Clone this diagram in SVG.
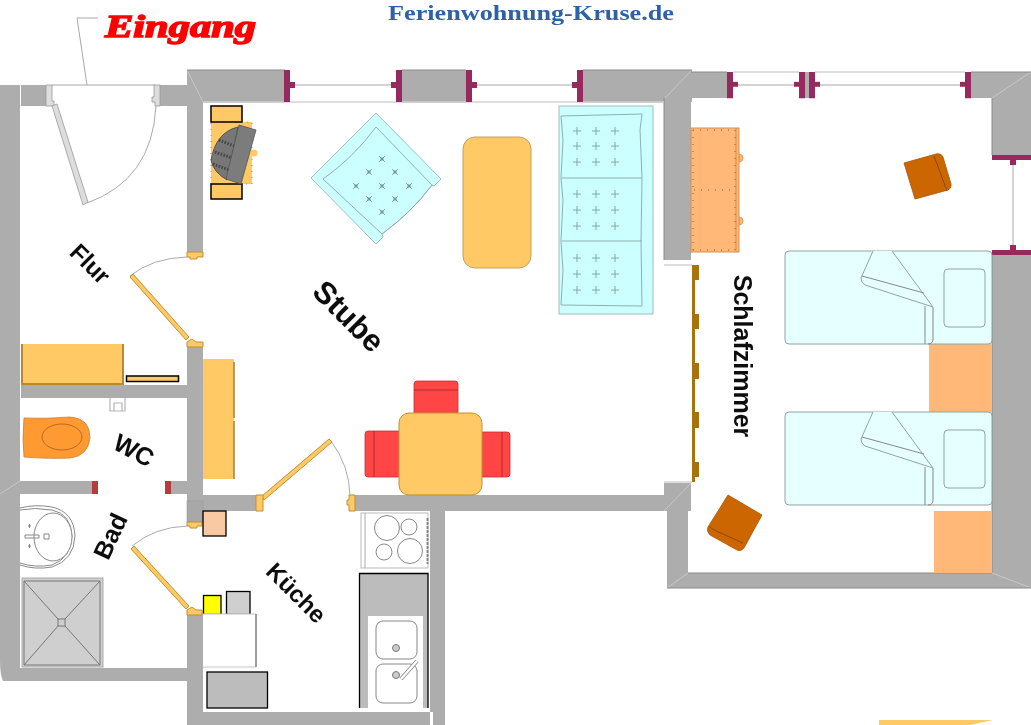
<svg xmlns="http://www.w3.org/2000/svg" xmlns:xlink="http://www.w3.org/1999/xlink" width="1031" height="725" viewBox="0 0 1031 725">
<style>
.w{fill:#adadad}
.m{stroke:#c8c8c8;stroke-width:1;fill:none}
.e{stroke:#8a8a8a;stroke-width:1;fill:none}
.p{fill:#96295f}
.rail{stroke:#a8a8a8;stroke-width:1;fill:none}
.sill{stroke:#d4d4d4;stroke-width:1.5;fill:none}
.y{fill:#ffc966}
.yb{fill:#ffc966;stroke:#000;stroke-width:1.5}
.dy{fill:#b8892c}
.leaf{fill:#ffc966;stroke:#c09030;stroke-width:1}
.arc{fill:none;stroke:#aaa;stroke-width:1}
.o{fill:#ffb877}
.br{fill:#cc6600;stroke:#a85500;stroke-width:.8;stroke-linejoin:round}
.brl{fill:none;stroke:#8c4a00;stroke-width:1}
.bar{fill:#a8720f}
.bed{fill:#e6ffff;stroke:#8ea5a5;stroke-width:1}
.cy{fill:#ccffff;stroke:#a3bcbc;stroke-width:1}
.cyl{fill:none;stroke:#8fb0b0;stroke-width:1}
.r{fill:#ff4444;stroke:#c83030;stroke-width:.8}
.rl{fill:none;stroke:#b02c2c;stroke-width:1}
.k{fill:none;stroke:#888;stroke-width:1}
.lab{font-family:"Liberation Sans",Arial,sans-serif;font-weight:bold;fill:#111;text-anchor:middle}
</style>
<defs>
<filter id="soft" x="0" y="0" width="100%" height="100%"><feGaussianBlur stdDeviation="0.4"/></filter>
<g id="tp"><path d="M-4 0H4M0-4V4" stroke="#7f9f9f" stroke-width=".9"/></g>
<g id="tx"><path d="M-2.800-2.800L2.800 2.800M2.800-2.800L-2.800 2.800" stroke="#6f8f8f" stroke-width=".9"/><circle r="1.400" fill="none" stroke="#6f8f8f" stroke-width=".6"/></g>
<g id="bedshape">
<rect class="bed" x="785" y="251" width="207" height="93" rx="4"/>
<rect class="bed" x="944" y="269" width="41" height="58" rx="4"/>
<path class="bed" d="M873 251L861 278Q861 283 865 285L933 307L892 251"/>
<path class="k" d="M862 276L924 293M925 306V344M933 307V339Q933 344 928 344" stroke="#7d9090"/>
</g>
<g id="ws"><rect class="p" x="0" y="0" width="6" height="32"/><rect class="p" x="6" y="12" width="5" height="6"/></g>
</defs>
<g filter="url(#soft)">
<g id="walls">
<path class="w" d="M0 85H20V681H3Q0 675 0 660Z"/>
<rect class="w" x="21" y="85" width="25" height="21"/>
<rect class="w" x="160" y="85" width="27" height="21"/>
<rect class="w" x="20" y="668" width="167" height="13"/>
<rect class="w" x="187" y="70" width="16" height="182"/>
<rect class="w" x="187" y="70" width="98" height="32"/>
<rect class="w" x="187" y="347" width="16" height="175"/>
<rect class="w" x="187" y="615" width="16" height="110"/>
<rect class="w" x="187" y="712" width="243" height="13"/>
<rect class="w" x="433" y="511" width="12" height="214"/>
<rect class="w" x="430" y="511" width="3" height="201"/>
<rect class="w" x="402" y="70" width="64" height="32"/>
<rect class="w" x="583" y="70" width="109" height="32"/>
<rect class="w" x="664" y="98" width="27" height="162"/>
<rect class="w" x="691" y="72" width="36" height="26"/>
<rect class="w" x="805" y="72" width="4" height="26"/>
<rect class="w" x="971" y="72" width="60" height="26"/>
<rect class="w" x="992" y="98" width="39" height="57"/>
<path class="w" d="M992 255H1031V588H667V511H664V483H691V511H688V573H992Z"/>
<rect class="w" x="21" y="385" width="166" height="13"/>
<rect class="w" x="20" y="481" width="72" height="13"/>
<rect class="w" x="171" y="481" width="16" height="13"/>
<rect class="w" x="203" y="495" width="53" height="16"/>
<rect class="w" x="355" y="495" width="309" height="16"/>
<path class="m" d="M187 70L203 102M692 70L665 98M1031 72L992 98M1031 588L992 573M667 588L688 573M0 494L20 481M664 511L691 483"/>
<path class="e" d="M187 70H285M402 70H466M583 70H692M691 72H727M971 72H1031M667 588H1031M688 573H992M203 102H285M402 102H466M583 102H664M664 98V260M992 98V155M992 255V573"/>
<rect x="187" y="501" width="16" height="21" fill="#a8a8a8" stroke="#999" stroke-width=".6"/>
</g>

<g id="windows">
<path class="rail" d="M290 85H395M471 85H577M733 85H799M815 85H965M1013 160V250"/>
<path class="sill" d="M290 102H395M471 102H577M203 102H664M733 72H799M815 72H965M664 265H692M664 482H692"/>
<use xlink:href="#ws" href="#ws" x="284" y="70"/>
<g transform="translate(402 70) scale(-1 1)"><use xlink:href="#ws" href="#ws"/></g>
<use xlink:href="#ws" href="#ws" x="466" y="70"/>
<g transform="translate(583 70) scale(-1 1)"><use xlink:href="#ws" href="#ws"/></g>
<g transform="translate(727 72) scale(1 .82)"><use xlink:href="#ws" href="#ws"/></g>
<g transform="translate(805 72) scale(-1 .82)"><use xlink:href="#ws" href="#ws"/></g>
<g transform="translate(809 72) scale(1 .82)"><use xlink:href="#ws" href="#ws"/></g>
<g transform="translate(971 72) scale(-1 .82)"><use xlink:href="#ws" href="#ws"/></g>
<rect class="p" x="992" y="155" width="39" height="5"/><rect class="p" x="1010" y="160" width="6" height="5"/>
<rect class="p" x="992" y="250" width="39" height="5"/><rect class="p" x="1010" y="245" width="6" height="5"/>
<rect class="bar" x="692" y="265" width="3" height="217"/>
<rect class="bar" x="692" y="265" width="7" height="15"/>
<rect class="bar" x="692" y="314" width="7" height="15"/>
<rect class="bar" x="692" y="363" width="7" height="16"/>
<rect class="bar" x="692" y="412" width="7" height="16"/>
<rect class="bar" x="692" y="462" width="7" height="15"/>
<rect x="92" y="481" width="6" height="13" fill="#b33c3c"/>
<rect x="165" y="481" width="6" height="13" fill="#b33c3c"/>
</g>

<g id="entrance-door">
<path d="M77 18H98M77 18L87 85" class="rail" stroke="#999"/>
<path class="rail" d="M52 85H155"/>
<path d="M46 85H52V101H54V106H46Z" fill="#ddd" stroke="#999" stroke-width=".8"/>
<path d="M160 85H154V97H152V102H155V106H160Z" fill="#ddd" stroke="#999" stroke-width=".8"/>
<path d="M52 106L57 104L88 202L83 205Z" fill="#ddd" stroke="#999" stroke-width=".8"/>
<path class="arc" d="M87 203Q152 180 156 106" stroke="#999"/>
</g>

<g id="door-flur">
<path class="arc" d="M130 276Q152 258 187 257"/>
<path class="leaf" d="M130 277L133 274L189 337L186 340Z"/>
<path class="leaf" d="M187 252H203V257H197V259H190V257H187Z"/>
<path class="leaf" d="M187 347V342L192 339L196 342H203V347Z"/>
</g>
<g id="door-bad">
<path class="arc" d="M132 546Q155 527 187 526"/>
<path class="leaf" d="M131 549L134 546L189 606L186 609Z"/>
<path class="leaf" d="M187 522H202V526H197V528H190V526H187Z"/>
<path class="leaf" d="M187 615V610L192 607L196 610H202V615Z"/>
</g>
<g id="door-kueche">
<path class="arc" d="M331 441Q349 465 350 495"/>
<path class="leaf" d="M262 496L329 439L332 442L264 500Z"/>
<path class="leaf" d="M256 495H263V511H256Z"/>
<path class="leaf" d="M355 495V511H349V505H347V500H349V495Z"/>
</g>

<g id="desk">
<rect class="y" x="211" y="122" width="41" height="62"/>
<rect x="211" y="122" width="41" height="62" fill="none" stroke="#b8892c" stroke-width="1" stroke-dasharray="1 5"/>
<circle cx="254" cy="153" r="3.500" class="y"/>
<rect class="yb" x="211" y="106" width="31" height="16"/>
<rect class="yb" x="211" y="184" width="31" height="15"/>
<path d="M238 127Q216 132 211 160Q213 172 227 180Z" fill="#777" stroke="#444" stroke-width=".8"/>
<path d="M219 140L234 146M215 152L232 158M213 164L229 170" stroke="#444" stroke-width="3" stroke-dasharray="1.500 1.500" fill="none"/>
<path d="M239 125L256 130L241 184L226 179Z" fill="#7c7c7c" stroke="#555" stroke-width=".8"/>
</g>

<g id="armchair">
<path class="cy" d="M376 113L441 179L434 186L432 185Q412 212 382 234L383 237L376 244L311 178Z"/>
<path class="cyl" d="M376 127L432 185Q412 212 382 234L323 179Q353 158 376 127Z"/>
<use xlink:href="#tx" href="#tx" x="382" y="159"/><use xlink:href="#tx" href="#tx" x="369" y="172"/><use xlink:href="#tx" href="#tx" x="395" y="172"/>
<use xlink:href="#tx" href="#tx" x="356" y="186"/><use xlink:href="#tx" href="#tx" x="382" y="186"/><use xlink:href="#tx" href="#tx" x="409" y="186"/>
<use xlink:href="#tx" href="#tx" x="369" y="199"/><use xlink:href="#tx" href="#tx" x="395" y="199"/><use xlink:href="#tx" href="#tx" x="382" y="212"/>
</g>

<rect id="coffee-table" x="463" y="137" width="68" height="131" rx="12" fill="#ffc966" stroke="#c4a060"/>

<g id="sofa">
<rect class="cy" x="559" y="106" width="94" height="208"/>
<path class="cyl" d="M561 116L642 114L640 130L642 178L641 241L642 306L561 305L563 270L561 241L563 200L561 178L563 140ZM562 178H642M562 241H642"/>
<g id="sofa-tufts">
<use xlink:href="#tp" href="#tp" x="577" y="131"/><use xlink:href="#tp" href="#tp" x="596" y="131"/><use xlink:href="#tp" href="#tp" x="615" y="131"/>
<use xlink:href="#tp" href="#tp" x="577" y="146"/><use xlink:href="#tp" href="#tp" x="596" y="146"/><use xlink:href="#tp" href="#tp" x="615" y="146"/>
<use xlink:href="#tp" href="#tp" x="577" y="162"/><use xlink:href="#tp" href="#tp" x="596" y="162"/><use xlink:href="#tp" href="#tp" x="615" y="162"/>
<use xlink:href="#tp" href="#tp" x="577" y="194"/><use xlink:href="#tp" href="#tp" x="596" y="194"/><use xlink:href="#tp" href="#tp" x="615" y="194"/>
<use xlink:href="#tp" href="#tp" x="577" y="210"/><use xlink:href="#tp" href="#tp" x="596" y="210"/><use xlink:href="#tp" href="#tp" x="615" y="210"/>
<use xlink:href="#tp" href="#tp" x="577" y="226"/><use xlink:href="#tp" href="#tp" x="596" y="226"/><use xlink:href="#tp" href="#tp" x="615" y="226"/>
<use xlink:href="#tp" href="#tp" x="577" y="258"/><use xlink:href="#tp" href="#tp" x="596" y="258"/><use xlink:href="#tp" href="#tp" x="615" y="258"/>
<use xlink:href="#tp" href="#tp" x="577" y="274"/><use xlink:href="#tp" href="#tp" x="596" y="274"/><use xlink:href="#tp" href="#tp" x="615" y="274"/>
<use xlink:href="#tp" href="#tp" x="577" y="290"/><use xlink:href="#tp" href="#tp" x="596" y="290"/><use xlink:href="#tp" href="#tp" x="615" y="290"/>
</g>
</g>

<g id="dining">
<rect class="r" x="414" y="381" width="44" height="34" rx="3"/><path class="rl" d="M414 390H458"/>
<rect class="r" x="365" y="431" width="36" height="46" rx="3"/><path class="rl" d="M374 431V477"/>
<rect class="r" x="480" y="432" width="30" height="45" rx="3"/><path class="rl" d="M502 432V477"/>
<rect x="399" y="413" width="83" height="82" rx="10" fill="#ffc966" stroke="#c09030"/>
</g>

<g id="wardrobe">
<rect class="y" x="21" y="344" width="103" height="41"/>
<rect class="dy" x="122" y="344" width="2" height="41"/><rect class="dy" x="21" y="383" width="101" height="2"/><rect class="dy" x="21" y="344" width="2" height="41"/>
<rect class="yb" x="126.500" y="376" width="52" height="5.500"/>
</g>
<g id="cabinet">
<rect class="y" x="203" y="359" width="31" height="120"/>
<path d="M234 362V418M234 421V479" stroke="#a8802c" stroke-width="1.500" fill="none"/>
</g>
<path id="holder" d="M110 398V411H125V398M114 403H122V411H114Z" fill="none" stroke="#b5b5b5" stroke-width="1.200"/>

<g id="toilet">
<path d="M24 418Q45 419 70 417Q90 418 90 438Q88 456 70 458Q50 459 24 457Q22 438 24 418Z" fill="#ff9933" stroke="#d08030" stroke-width=".8"/>
<ellipse cx="62" cy="437" rx="20" ry="13" fill="none" stroke="#b86a20"/>
</g>

<g id="basin">
<path class="k" d="M20 508Q35 504 52 507Q74 512 75 536Q74 560 52 567Q35 570 20 565"/>
<path class="k" d="M20 510Q35 507 52 510Q71 514 72 536Q71 558 52 565Q35 568 20 563"/>
<ellipse cx="53" cy="537" rx="19" ry="24" fill="#fff" stroke="#888"/>
<path class="k" d="M25 535H39V538H25ZM44 534H49V539H44ZM28 526H31M29.500 524V528M28 546H31M29.500 544V548"/>
</g>

<g id="shower">
<rect x="22" y="578" width="81" height="89" fill="#cfcfcf" stroke="#aaa"/>
<path d="M24 581H100V665H24ZM24 581L58 619M100 581L65 619M24 665L58 626M100 665L65 626" fill="none" stroke="#777"/>
<rect x="58" y="619" width="7" height="7" fill="#cfcfcf" stroke="#777"/>
</g>

<g id="kitchen">
<rect x="203" y="511" width="23" height="25" fill="#f9c9a4" stroke="#000" stroke-width="1.300"/>
<rect x="203.500" y="595.500" width="17.500" height="19" fill="#ffff00" stroke="#000" stroke-width="1.300"/>
<rect x="226.500" y="591.500" width="23.500" height="23" fill="#cfcfcf" stroke="#000" stroke-width="1.300"/>
<path d="M203 614H256V667H203" fill="#fff" stroke="#c4c4c4" stroke-width="1"/>
<path d="M256 614V667" stroke="#888" stroke-width="1.500"/>
<rect x="207" y="672" width="60.500" height="36" fill="#bcbcbc" stroke="#000" stroke-width="1.300"/>
</g>

<g id="stove">
<rect x="361" y="513" width="67" height="55" fill="#fff" stroke="#bbb"/>
<path d="M365 513V568" stroke="#aaa"/><path d="M427.500 518V564" stroke="#888" stroke-width="2" stroke-dasharray="3 1"/>
<circle class="k" cx="387" cy="528" r="12.500"/><circle class="k" cx="409" cy="527" r="8"/>
<circle class="k" cx="384" cy="552" r="8"/><circle class="k" cx="410" cy="551" r="12.500"/>
</g>

<g id="sink">
<path d="M359.500 708V573.500H428V708" fill="#bcbcbc" stroke="#000" stroke-width="1.300"/>
<rect x="368" y="616" width="55" height="92" fill="#fff"/>
<rect class="k" x="376" y="621" width="41" height="38" rx="7"/>
<rect class="k" x="376" y="664" width="41" height="39" rx="7"/>
<circle cx="396" cy="648" r="3.500" fill="#ccc" stroke="#777"/>
<circle cx="396" cy="675" r="3.500" fill="#ccc" stroke="#777"/>
<path d="M401 679L417 661" stroke="#888" stroke-width="4"/>
<path d="M401 679L417 661" stroke="#fff" stroke-width="2.400"/>
</g>

<g id="bedroom">
<rect class="o" x="929" y="344" width="63" height="68"/>
<rect class="o" x="934" y="511" width="58" height="62"/>
<use xlink:href="#bedshape" href="#bedshape"/>
<use xlink:href="#bedshape" href="#bedshape" y="161"/>
<path d="M739 154A4 4 0 0 1 739 162ZM739 217A4 4 0 0 1 739 225Z" fill="#ffb877" stroke="#d99050" stroke-width=".8"/>
<rect x="691" y="128" width="48" height="124" fill="#ffb877" stroke="#d99050"/>
<path d="M736 128V252" stroke="#d08a48"/>
<path d="M693 130H735M693 250H735M693 130V250M735 130V250M694 190H734" fill="none" stroke="#b87a40" stroke-width="1.500" stroke-dasharray="1 6"/>
<path class="br" d="M904 163L936 154Q941 153 943 157L951 184Q952 188 948 190L915 199Z"/>
<path class="brl" d="M934 156L947 191"/>
<path class="br" d="M728 495L762 515L744 548Q741 552 737 550L710 535Q706 531 708 527Z"/>
<path class="brl" d="M709 526Q712 529 716 531L743 543"/>
</g>

<g id="labels">
<text class="lab" font-size="24" transform="translate(90 264) rotate(45)" dy="8">Flur</text>
<text class="lab" font-size="31" transform="translate(349 316) rotate(45)" dy="11">Stube</text>
<text class="lab" font-size="25" transform="translate(743 356) rotate(90)" dy="9">Schlafzimmer</text>
<text class="lab" font-size="25" transform="translate(134 450) rotate(28)" dy="9">WC</text>
<text class="lab" font-size="25" transform="translate(110 536) rotate(-65)" dy="9">Bad</text>
<text class="lab" font-size="24" transform="translate(296 593) rotate(45)" dy="8">Küche</text>
<text x="105" y="37" font-family="'Liberation Serif','Times New Roman',serif" font-weight="bold" font-style="italic" font-size="31" fill="#ff0000" stroke="#ff0000" stroke-width="1.500" textLength="151" lengthAdjust="spacingAndGlyphs">Eingang</text>
<text x="388" y="20" font-family="'Liberation Serif','Times New Roman',serif" font-weight="bold" font-size="22" fill="#2f62a8" textLength="286" lengthAdjust="spacingAndGlyphs">Ferienwohnung-Kruse.de</text>
</g>
<path id="fragment" d="M879 720H993L970 725H879Z" fill="#ffc966"/>
</g>
</svg>
